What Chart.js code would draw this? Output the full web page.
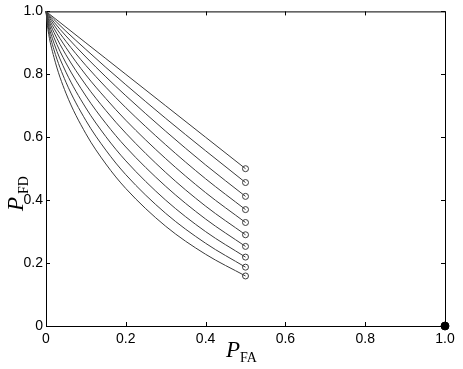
<!DOCTYPE html>
<html>
<head>
<meta charset="utf-8">
<script src="https://cdn.jsdelivr.net/npm/chart.js@4"></script>
<style>
  html, body { margin: 0; padding: 0; background: #fff; }
  canvas { display: block; }
</style>
</head>
<body>
<canvas id="rocChart" width="463" height="369"></canvas>
<script>
// false-alarm probabilities where the curves are sampled
const pfa = [0, 0.005, 0.02, 0.05, 0.1, 0.15, 0.2, 0.3, 0.4, 0.5];

// failed-detection probability, one array per curve (top to bottom)
const pfd1  = [1, 0.995, 0.980, 0.950, 0.900, 0.850, 0.800, 0.700, 0.600, 0.500];
const pfd2  = [1, 0.993, 0.974, 0.937, 0.879, 0.822, 0.767, 0.660, 0.557, 0.456];
const pfd3  = [1, 0.991, 0.966, 0.922, 0.855, 0.792, 0.732, 0.619, 0.512, 0.412];
const pfd4  = [1, 0.988, 0.957, 0.905, 0.828, 0.759, 0.694, 0.576, 0.468, 0.370];
const pfd5  = [1, 0.983, 0.946, 0.885, 0.798, 0.723, 0.654, 0.532, 0.424, 0.329];
const pfd6  = [1, 0.978, 0.933, 0.862, 0.766, 0.685, 0.613, 0.488, 0.381, 0.290];
const pfd7  = [1, 0.972, 0.917, 0.836, 0.731, 0.644, 0.569, 0.444, 0.340, 0.253];
const pfd8  = [1, 0.964, 0.899, 0.807, 0.693, 0.602, 0.525, 0.400, 0.300, 0.219];
const pfd9  = [1, 0.954, 0.878, 0.775, 0.653, 0.559, 0.481, 0.358, 0.263, 0.187];
const pfd10 = [1, 0.942, 0.854, 0.740, 0.611, 0.515, 0.437, 0.317, 0.228, 0.159];

// the single filled point in the lower right corner
const cornerPoint = [{ x: 1, y: 0 }];

const tickValues = [0, 0.2, 0.4, 0.6, 0.8, 1];

const curves = [pfd1, pfd2, pfd3, pfd4, pfd5, pfd6, pfd7, pfd8, pfd9, pfd10];

const curveSets = curves.map(vals => ({
    data: vals.map((v, i) => ({ x: pfa[i], y: v })),
    showLine: true,
    borderColor: "#3a3a3a",
    borderWidth: 1,
    cubicInterpolationMode: "monotone",
    pointRadius: ctx => ctx.dataIndex === pfa.length - 1 ? 3 : 0,
    pointBorderColor: "#3a3a3a",
    pointBorderWidth: 1,
    pointBackgroundColor: "rgba(0,0,0,0)",
    clip: false
}));

curveSets.push({
    data: cornerPoint,
    showLine: false,
    pointRadius: 4,
    pointBackgroundColor: "#000",
    pointBorderColor: "#000",
    clip: false
});

// box around the axes with inward ticks, matlab style
const framePlugin = {
    id: "frame",
    beforeDatasetsDraw(chart) {
        const { ctx, chartArea: a, scales } = chart;
        ctx.save();
        ctx.strokeStyle = "#000";
        ctx.lineWidth = 1;
        ctx.strokeRect(a.left + 0.5, a.top + 0.5, a.right - a.left, a.bottom - a.top);
        ctx.beginPath();
        tickValues.forEach(t => {
            const px = Math.round(scales.x.getPixelForValue(t)) + 0.5;
            ctx.moveTo(px, a.bottom); ctx.lineTo(px, a.bottom - 4);
            ctx.moveTo(px, a.top); ctx.lineTo(px, a.top + 4);
            const py = Math.round(scales.y.getPixelForValue(t)) + 0.5;
            ctx.moveTo(a.left, py); ctx.lineTo(a.left + 4, py);
            ctx.moveTo(a.right, py); ctx.lineTo(a.right - 4, py);
        });
        ctx.stroke();
        ctx.restore();
    },
    afterDraw(chart) {
        const ctx = chart.ctx;
        ctx.save();
        ctx.fillStyle = "#000";
        ctx.textBaseline = "alphabetic";
        // x axis title
        ctx.font = 'italic 23px "Liberation Serif"';
        ctx.fillText("P", 226, 357);
        ctx.font = '14px "Liberation Serif"';
        ctx.fillText("FA", 240, 362);
        // y axis title
        ctx.translate(23, 211);
        ctx.rotate(-Math.PI / 2);
        ctx.font = 'italic 23px "Liberation Serif"';
        ctx.fillText("P", 0, 0);
        ctx.font = '14px "Liberation Serif"';
        ctx.fillText("FD", 17, 5);
        ctx.restore();
    }
};

const tickFont = { family: "Liberation Sans", size: 14 };

new Chart(document.getElementById("rocChart").getContext("2d"), {
    type: "scatter",
    data: { datasets: curveSets },
    options: {
        responsive: false,
        devicePixelRatio: 1,
        animation: false,
        layout: { padding: { top: 11, right: 18, left: 0, bottom: 0 } },
        plugins: {
            legend: { display: false },
            tooltip: { enabled: false }
        },
        scales: {
            x: {
                type: "linear",
                min: 0,
                max: 1,
                grid: { display: false, drawTicks: false },
                border: { display: false },
                afterBuildTicks: s => { s.ticks = tickValues.map(v => ({ value: v })); },
                afterFit: s => { s.height = 43; },
                ticks: { color: "#000", font: tickFont, padding: 5, maxRotation: 0 }
            },
            y: {
                type: "linear",
                min: 0,
                max: 1,
                grid: { display: false, drawTicks: false },
                border: { display: false },
                afterBuildTicks: s => { s.ticks = tickValues.map(v => ({ value: v })); },
                afterFit: s => { s.width = 46; },
                ticks: { color: "#000", font: tickFont, padding: 3 }
            }
        }
    },
    plugins: [framePlugin]
});
</script>
</body>
</html>
